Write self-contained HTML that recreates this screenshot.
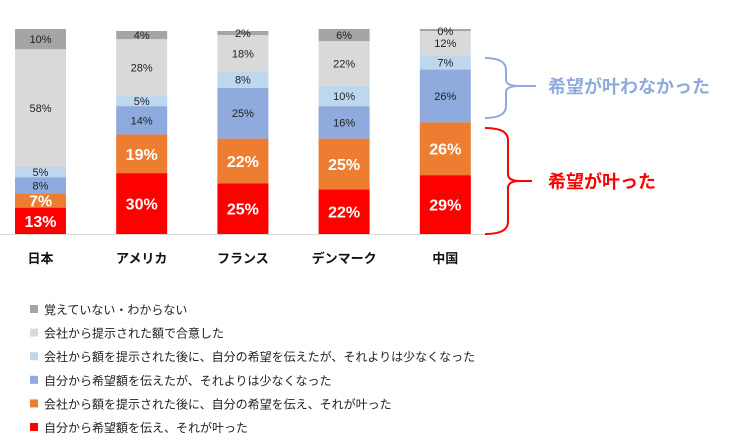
<!DOCTYPE html>
<html><head><meta charset="utf-8"><style>
body{margin:0;background:#fff;width:738px;height:443px;overflow:hidden;font-family:"Liberation Sans","Noto Sans CJK JP",sans-serif;}
</style></head><body>
<svg id="c" width="738" height="443" xmlns="http://www.w3.org/2000/svg" style="font-family:'Liberation Sans','Noto Sans CJK JP',sans-serif">
<line x1="0" y1="234.5" x2="488" y2="234.5" stroke="#d9d9d9" stroke-width="1"/>
<path d="M485,58 Q506,58 506,70 L506,80 Q506,86 520,86 L536,86 M485,118 Q506,118 506,106 L506,92 Q506,86 520,86" fill="none" stroke="#8faadc" stroke-width="2"/>
<text x="548" y="93" font-size="18" font-weight="bold" fill="#8faadc">希望が叶わなかった</text>
<path d="M485,128 Q508,128 508,140 L508,174 Q508,181 520,181 L532,181 M485,234 Q508,234 508,222 L508,188 Q508,181 520,181" fill="none" stroke="#ff0000" stroke-width="2"/>
<text x="548" y="188" font-size="18" font-weight="bold" fill="#ff0000">希望が叶った</text>
</svg>
<script>
const categories=["日本","アメリカ","フランス","デンマーク","中国"];
const selfFulfilled=[13,30,25,22,29];
const companyFulfilled=[7,19,22,25,26];
const selfLess=[8,14,25,16,26];
const companyLess=[5,5,8,10,7];
const accepted=[58,28,18,22,12];
const dontKnow=[10,4,2,6,0];
const seriesNames=["自分から希望額を伝え、それが叶った","会社から額を提示された後に、自分の希望を伝え、それが叶った","自分から希望額を伝えたが、それよりは少なくなった","会社から額を提示された後に、自分の希望を伝えたが、それよりは少なくなった","会社から提示された額で合意した","覚えていない・わからない"];
const series=[selfFulfilled,companyFulfilled,selfLess,companyLess,accepted,dontKnow];
const colors=["#ff0000","#ed7d31","#8faadc","#bdd7ee","#d9d9d9","#a5a5a5"];
const ns="http://www.w3.org/2000/svg";
const svg=document.getElementById("c");
const baseY=234,plotH=203,bw=51;
const xPos=i=>15+i*101.2;
const yScale=v=>v*plotH/100;
function mk(t,a){const e=document.createElementNS(ns,t);for(const k in a)e.setAttribute(k,a[k]);svg.appendChild(e);return e;}
categories.forEach((cat,i)=>{
  let y=baseY;
  series.forEach((s,j)=>{
    const v=s[i];const h=yScale(v);
    const r=mk("rect",{x:xPos(i),y:y-h,width:bw,height:Math.max(h,0)+ (j==5&&v==0?0:0),fill:colors[j]});
    
    
    if(j==5&&v==0){const z=mk("rect",{x:xPos(i),y:y-2,width:bw,height:2,fill:colors[j]});}
    const big=j<2;
    const t=mk("text",{x:xPos(i)+bw/2,y:y-h/2+(big?6:4),"text-anchor":"middle","font-size":big?16:11,"font-weight":big?"bold":"normal",fill:big?"#fff":"#222"});
    t.textContent=v+"%";
    
    
    y-=h;
  });
  const xl=mk("text",{x:xPos(i)+bw/2,y:263,"text-anchor":"middle","font-size":13,"font-weight":"bold",fill:"#111"});
  xl.textContent=cat;
  
  
});
for(let k=0;k<6;k++){
  const j=5-k;const ly=310+k*23.6;
  const sq=mk("rect",{x:30,y:ly-5,width:8,height:8,fill:colors[j]});
  
  
  const lt=mk("text",{x:44,y:ly+4,"font-size":12,fill:"#222"});
  lt.textContent=seriesNames[j];
  
  
}
</script>
</body></html>
